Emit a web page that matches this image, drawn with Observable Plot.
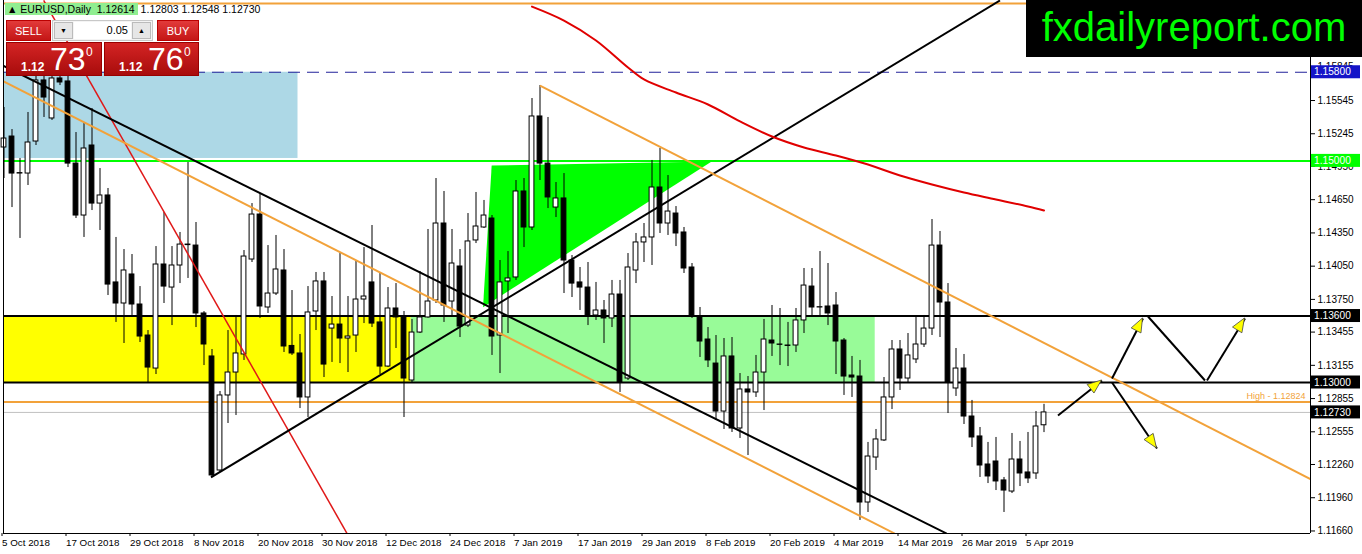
<!DOCTYPE html>
<html><head><meta charset="utf-8">
<script src="https://cdn.jsdelivr.net/npm/d3@7"></script>
<script src="https://cdn.jsdelivr.net/npm/@observablehq/plot@0.6"></script>
<style>
body{margin:0;background:#fff;}
#wrap{position:relative;width:1362px;height:554px;overflow:hidden;font-family:"Liberation Sans",Arial,sans-serif;}
.abs{position:absolute;box-sizing:border-box;}
.btn{background:linear-gradient(#e23a3a,#c41616);color:#fff;font-size:11px;text-align:center;line-height:20px;border:1px solid #b00;}
.big{background:linear-gradient(#d42424,#a80c0c);color:#fff;border:1px solid #900;}
</style></head><body><div id="wrap"></div>
<script>
// ---------- DATA ----------
const symbol = "EURUSD,Daily";
const bid = 1.12730, ask = 1.12760, lot = "0.05";
const dateLabels = ["5 Oct 2018","17 Oct 2018","29 Oct 2018","8 Nov 2018","20 Nov 2018","30 Nov 2018","12 Dec 2018","24 Dec 2018","7 Jan 2019","17 Jan 2019","29 Jan 2019","8 Feb 2019","20 Feb 2019","4 Mar 2019","14 Mar 2019","26 Mar 2019","5 Apr 2019"];
const tickBars = [0,8,16,24,32,40,48,56,64,72,80,88,96,104,112,120,128];
const priceTicks = [1.15845,1.15545,1.15245,1.14950,1.14650,1.14350,1.14050,1.13750,1.13455,1.13155,1.12855,1.12555,1.12260,1.11960,1.11660];

const open = [1.15121,1.15220,1.14886,1.14886,1.15175,1.15726,1.15383,1.15744,1.15717,1.14976,
1.14507,1.15139,1.14615,1.14688,1.13903,1.13713,1.13975,1.13704,1.13424,1.13126,
1.14065,1.13857,1.14056,1.14245,1.14236,1.13623,1.13235,1.12206,1.12883,1.13090,
1.13253,1.14110,1.14516,1.13677,1.13803,1.14011,1.13330,1.13262,1.12865,1.13641,
1.13912,1.13487,1.13523,1.13397,1.13424,1.13749,1.13903,1.13542,1.13144,1.13668,
1.13596,1.13018,1.13451,1.13587,1.13740,1.14435,1.13731,1.14047,1.13514,1.14282,
1.14399,1.14480,1.13424,1.13912,1.13948,1.14724,1.14399,1.15401,1.14976,1.14579,
1.14661,1.14101,1.13903,1.13857,1.13605,1.13650,1.13578,1.13794,1.13036,1.14011,
1.14264,1.14309,1.14760,1.14435,1.14525,1.14354,1.14038,1.13596,1.13388,1.13171,
1.12738,1.13235,1.12585,1.12937,1.12910,1.13090,1.13379,1.13343,1.13334,1.13334,
1.13560,1.13866,1.13677,1.13686,1.13695,1.13379,1.13063,1.13054,1.11917,1.12323,
1.12477,1.12865,1.13298,1.13036,1.13208,1.13343,1.13487,1.14236,1.13722,1.12946,
1.13126,1.12693,1.12513,1.12260,1.12287,1.12116,1.12016,1.12305,1.12188,1.12179,
1.12614];
const high = [1.15482,1.15283,1.15022,1.15437,1.15798,1.15771,1.15798,1.15798,1.15771,1.15256,
1.15337,1.15473,1.14931,1.14751,1.14309,1.14200,1.14155,1.13866,1.13469,1.14227,
1.14534,1.14227,1.14354,1.14986,1.14444,1.13640,1.13298,1.12919,1.13469,1.13605,
1.14191,1.14615,1.14706,1.14236,1.14327,1.14200,1.13830,1.13433,1.13866,1.13993,
1.13993,1.13776,1.14164,1.13776,1.14092,1.14218,1.14417,1.13984,1.13857,1.13893,
1.13641,1.13569,1.14002,1.14381,1.14841,1.14724,1.14381,1.14200,1.14525,1.14715,
1.14643,1.14507,1.14101,1.14182,1.14823,1.14841,1.15563,1.15680,1.15392,1.14805,
1.14886,1.14146,1.14038,1.14083,1.13903,1.13740,1.13921,1.13921,1.14164,1.14345,
1.14435,1.15004,1.15112,1.14868,1.14588,1.14399,1.14074,1.13677,1.13496,1.13424,
1.13397,1.13406,1.13081,1.13054,1.13244,1.13569,1.13695,1.13668,1.13542,1.13668,
1.14029,1.14029,1.14182,1.14074,1.13812,1.13397,1.13235,1.13199,1.12459,1.12576,
1.13045,1.13379,1.13379,1.13442,1.13587,1.13605,1.14471,1.14363,1.13893,1.13307,
1.13253,1.12838,1.12594,1.12459,1.12504,1.12143,1.12540,1.12468,1.12549,1.12738,
1.12803];
const low = [1.14841,1.14579,1.14300,1.14778,1.15139,1.15392,1.15365,1.15680,1.14940,1.14480,
1.14309,1.14552,1.14372,1.13785,1.13542,1.13352,1.13605,1.13361,1.13000,1.13072,
1.13713,1.13514,1.13893,1.13939,1.13496,1.13153,1.12143,1.12188,1.12630,1.12702,
1.13199,1.14083,1.13578,1.13623,1.13785,1.13271,1.13244,1.12765,1.12684,1.13469,
1.13045,1.13181,1.13171,1.13090,1.13271,1.13532,1.13496,1.13072,1.13135,1.13307,
1.12684,1.12991,1.13442,1.13580,1.13713,1.13542,1.13587,1.13406,1.13496,1.14254,
1.14390,1.13244,1.13081,1.13442,1.13921,1.14218,1.14372,1.14823,1.14570,1.14489,
1.13803,1.13767,1.13650,1.13514,1.13560,1.13352,1.13496,1.12910,1.13018,1.13893,
1.14083,1.14056,1.14345,1.14327,1.14227,1.13984,1.13578,1.13226,1.13135,1.12657,
1.12576,1.12549,1.12495,1.12341,1.12865,1.12747,1.13235,1.13153,1.13144,1.13271,
1.13442,1.13587,1.13587,1.13514,1.13072,1.12883,1.12865,1.11755,1.11827,1.12206,
1.12468,1.12756,1.12928,1.12991,1.13171,1.13316,1.13424,1.13406,1.12720,1.12874,
1.12621,1.12413,1.12143,1.12088,1.12025,1.11827,1.11998,1.12061,1.12088,1.12125,
1.12548];
const close = [1.15202,1.14886,1.14890,1.15166,1.15726,1.15572,1.15744,1.15708,1.14976,1.14507,
1.15112,1.14615,1.14688,1.13884,1.13713,1.14011,1.13704,1.13415,1.13135,1.14065,
1.13866,1.14056,1.14245,1.14240,1.13623,1.13343,1.12161,1.12883,1.13090,1.13262,
1.14137,1.14516,1.13686,1.13803,1.14020,1.13325,1.13262,1.12865,1.13632,1.13912,
1.13162,1.13523,1.13397,1.13415,1.13749,1.13776,1.13532,1.13144,1.13668,1.13587,
1.13036,1.13451,1.13587,1.13731,1.14435,1.13695,1.14074,1.13505,1.14273,1.14408,
1.14507,1.13415,1.13903,1.13939,1.14724,1.14399,1.15401,1.14976,1.14670,1.14661,
1.14101,1.13893,1.13857,1.13596,1.13650,1.13578,1.13794,1.13000,1.14038,1.14264,
1.14309,1.14760,1.14435,1.14543,1.14345,1.14029,1.13596,1.13370,1.13199,1.12738,
1.13235,1.12585,1.12937,1.12910,1.13090,1.13388,1.13352,1.13340,1.13330,1.13560,
1.13875,1.13677,1.13680,1.13623,1.13370,1.13054,1.13045,1.11917,1.12332,1.12486,
1.12865,1.13298,1.13036,1.13244,1.13343,1.13487,1.14236,1.13722,1.13000,1.13126,
1.12693,1.12504,1.12251,1.12152,1.12107,1.12025,1.12305,1.12179,1.12134,1.12603,
1.12730];

// moving average (read at selected bars)
const maBars   = [66,70,74,78,80,84,88,92,96,100,104,108,112,116,120,124,128,130];
const maValues = [1.16393,1.16267,1.16087,1.15843,1.15735,1.15617,1.15509,1.15356,1.15220,1.15121,1.15049,1.14967,1.14868,1.14787,1.14715,1.14652,1.14588,1.14552];

// drawn objects (bar index / price)
const zones = [
  {i1:-3, i2:36.75, p1:1.15022, p2:1.15800, color:"#ADD8E6"},
  {i1:-3, i2:50.9,  p1:1.13000, p2:1.13600, color:"#FFFF00"},
  {i1:50.9, i2:108.9, p1:1.13000, p2:1.13600, color:"#98FB98"}
];
const triangle = [{i:60.96,p:1.14958},{i:88.46,p:1.14995},{i:59.88,p:1.13680},{i:60.96,p:1.14958}];
const hLevels = [
  {p:1.16420, color:"#F2A23A", w:2},
  {p:1.15000, color:"#00FF00", w:2},
  {p:1.13600, color:"#000000", w:2},
  {p:1.13000, color:"#000000", w:2},
  {p:1.12824, color:"#F2A23A", w:2},
  {p:1.12730, color:"#C0C0C0", w:1}
];
const dashLevel = [1.15800];
const trendLines = [
  {i1:4.96,  p1:1.16448, i2:42.88,  p2:1.11637, color:"#E01818", w:1.5},
  {i1:-0.2,  p1:1.15862, i2:117.84, p2:1.11637, color:"#000000", w:2},
  {i1:25.875,p1:1.12143, i2:124.5,  p2:1.16448, color:"#000000", w:2},
  {i1:-0.2,  p1:1.15722, i2:111.34, p2:1.11637, color:"#F2A23A", w:2},
  {i1:67,    p1:1.15680, i2:163.3,  p2:1.12129, color:"#F2A23A", w:2}
];
const arrows = [
  {i1:131.75,p1:1.12702,i2:137.25,p2:1.13018,head:true},
  {i1:138.5, p1:1.13036,i2:142.375,p2:1.13578,head:true},
  {i1:143,   p1:1.13596,i2:150.125,p2:1.13018,head:false},
  {i1:150.375,p1:1.13018,i2:155.125,p2:1.13578,head:true},
  {i1:138.5, p1:1.13000,i2:144.125,p2:1.12404,head:true}
];
const axisBoxes = [
  {p:1.15800, bg:"#1414C8", fg:"#FFFFFF"},
  {p:1.15000, bg:"#00FF00", fg:"#FFFFFF"},
  {p:1.13600, bg:"#000000", fg:"#FFFFFF"},
  {p:1.13000, bg:"#000000", fg:"#FFFFFF"},
  {p:1.12730, bg:"#000000", fg:"#FFFFFF"}
];
const highLevel = 1.12824;

// ---------- CHART ----------
const bars = open.map((o,i)=>({i, o, h:high[i], l:low[i], c:close[i]}));
const ma = maBars.map((b,k)=>({i:b, p:maValues[k]}));
const xDomain = [-0.0625, 163.3125];
const yDomain = [1.116372, 1.164477];
const fmt5 = d3.format(".5f");

const plot = Plot.plot({
  width:1362, height:554,
  marginLeft:3, marginRight:52, marginTop:0, marginBottom:21,
  x:{type:"linear", domain:xDomain},
  y:{type:"linear", domain:yDomain},
  color:{type:"identity"},
  style:{fontFamily:"'Liberation Sans', Arial, sans-serif", fontSize:"10px", background:"white", color:"black"},
  marks:[
    Plot.rect(zones, {x1:"i1", x2:"i2", y1:"p1", y2:"p2", fill:"color", clip:true}),
    Plot.line(triangle, {x:"i", y:"p", fill:"#00FF00", stroke:"none"}),
    Plot.ruleY(hLevels, {y:"p", stroke:"color", strokeWidth:"w"}),
    Plot.ruleY(dashLevel, {stroke:"#23239A", strokeWidth:1.2, strokeDasharray:"12,7"}),
    Plot.ruleX(bars, {x:"i", y1:"l", y2:"h", stroke:"black", strokeWidth:1}),
    Plot.rect(bars, {x1:d=>d.i-0.3, x2:d=>d.i+0.3, y1:"o", y2:"c", fill:d=>d.c>=d.o?"white":"black", stroke:"black", strokeWidth:1}),
    Plot.link(trendLines, {x1:"i1", y1:"p1", x2:"i2", y2:"p2", stroke:"color", strokeWidth:"w", clip:true}),
    Plot.line(ma, {x:"i", y:"p", stroke:"#E00000", strokeWidth:2, curve:"catmull-rom", clip:true}),
    Plot.link(arrows, {x1:"i1", y1:"p1", x2:"i2", y2:"p2", stroke:"black", strokeWidth:2}),
    Plot.text([highLevel], {x:xDomain[1], y:d=>d, text:d=>"High - "+fmt5(d), textAnchor:"end", dx:-5, dy:-6, fill:"#F2A23A", fontSize:9}),
    Plot.ruleX(xDomain, {stroke:"black", strokeWidth:1}),
    Plot.ruleY([yDomain[0]], {stroke:"black", strokeWidth:1}),
    Plot.axisY(priceTicks, {anchor:"right", tickSize:4, tickPadding:3, tickFormat:fmt5, fontSize:10}),
    Plot.axisX(tickBars, {anchor:"bottom", tickSize:3, tickPadding:3, tickFormat:d=>dateLabels[tickBars.indexOf(d)], textAnchor:"start", dx:-2, fontSize:9.8})
  ]
});
document.getElementById("wrap").appendChild(plot);

const sx = plot.scale("x"), sy = plot.scale("y");
const svg = d3.select(plot);
// arrowheads
for (const a of arrows) if (a.head) {
  const x1=sx.apply(a.i1), y1=sy.apply(a.p1), x2=sx.apply(a.i2), y2=sy.apply(a.p2);
  const dx=x2-x1, dy=y2-y1, L=Math.hypot(dx,dy), ux=dx/L, uy=dy/L;
  const bx=x2-ux*14, by=y2-uy*14, px=-uy*5.5, py=ux*5.5;
  svg.append("path").attr("d",`M${x2},${y2}L${bx+px},${by+py}L${bx-px},${by-py}Z`)
    .attr("fill","#FFFF00").attr("stroke","#444").attr("stroke-width",0.8);
}
// price boxes on axis
const xr = sx.apply(xDomain[1]);
for (const b of axisBoxes) {
  const y = sy.apply(b.p);
  svg.append("rect").attr("x",xr+1).attr("y",y-6.5).attr("width",49).attr("height",13).attr("fill",b.bg);
  svg.append("text").attr("x",xr+4).attr("y",y).attr("dy","0.36em").attr("fill",b.fg)
    .attr("text-anchor","start").attr("font-size",10.2)
    .attr("font-family","'Liberation Sans', Arial, sans-serif").text(fmt5(b.p));
}

// ---------- OVERLAYS ----------
const wrap = document.getElementById("wrap");
const n = open.length - 1;
function add(html){ wrap.insertAdjacentHTML("beforeend", html); }
add(`<div class="abs" style="left:5px;top:2px;height:15px;font-size:10.5px;line-height:15px;white-space:pre;color:#000"><span style="background:#90EE90;padding:0 3px 0 2px">▲ ${symbol}  ${fmt5(open[n])}</span> ${fmt5(high[n])} ${fmt5(low[n])} ${fmt5(close[n])}</div>`);
add(`<div class="abs btn" style="left:6px;top:20px;width:45px;height:21px;">SELL</div>`);
add(`<div class="abs" style="left:52px;top:20px;width:101px;height:21px;background:#f4f4f4;border:1px solid #c8c8c8"></div>`);
add(`<div class="abs" style="left:54px;top:22px;width:19px;height:17px;background:#e6e6e6;border:1px solid #bbb;font-size:7px;text-align:center;line-height:16px">▼</div>`);
add(`<div class="abs" style="left:74px;top:22px;width:57px;height:17px;background:#fff;font-size:11px;text-align:right;line-height:17px;padding-right:3px">${lot}</div>`);
add(`<div class="abs" style="left:132px;top:22px;width:19px;height:17px;background:#e6e6e6;border:1px solid #bbb;font-size:7px;text-align:center;line-height:16px">▲</div>`);
add(`<div class="abs btn" style="left:157px;top:20px;width:42px;height:21px;">BUY</div>`);
function priceBox(left, width, price){
  const s = price.toFixed(5);
  const a = s.slice(0,4), b = s.slice(4,6), c = s.slice(6);
  return `<div class="abs big" style="left:${left}px;top:42px;width:${width}px;height:34px;">
    <span class="abs" style="left:14px;top:17px;font-size:12px;font-weight:bold">${a}</span>
    <span class="abs" style="left:43px;top:-2px;font-size:32px">${b}</span>
    <span class="abs" style="left:79px;top:2px;font-size:12px">${c}</span></div>`;
}
add(priceBox(6, 96, bid));
add(priceBox(104, 95, ask));
add(`<div class="abs" style="left:1026px;top:0;width:336px;height:57px;background:#000;color:#00FF00;font-size:40px;line-height:54px;text-align:center;">fxdailyreport.com</div>`);
</script></body></html>
